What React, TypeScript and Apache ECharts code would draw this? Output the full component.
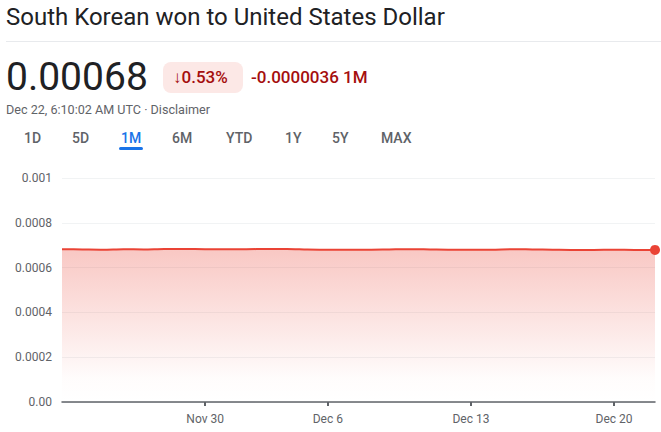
import React, { useEffect, useRef } from "react";
import * as echarts from "echarts";

const dates = [
  "Nov 23", "Nov 24", "Nov 25", "Nov 26", "Nov 27", "Nov 28", "Nov 29", "Nov 30",
  "Dec 1", "Dec 2", "Dec 3", "Dec 4", "Dec 5", "Dec 6", "Dec 7", "Dec 8", "Dec 9",
  "Dec 10", "Dec 11", "Dec 12", "Dec 13", "Dec 14", "Dec 15", "Dec 16", "Dec 17",
  "Dec 18", "Dec 19", "Dec 20", "Dec 21", "Dec 22",
];
const rates = [
  0.000682, 0.000681, 0.00068, 0.000682, 0.000681, 0.000683, 0.000683, 0.000682,
  0.000682, 0.000682, 0.000683, 0.000683, 0.000681, 0.00068, 0.00068, 0.00068,
  0.000681, 0.000682, 0.000681, 0.00068, 0.00068, 0.00068, 0.000682, 0.000681,
  0.00068, 0.000679, 0.000679, 0.00068, 0.000679, 0.000679,
];
const xTickLabels = ["Nov 30", "Dec 6", "Dec 13", "Dec 20"];
const yTickLabels = ["0.00", "0.0002", "0.0004", "0.0006", "0.0008", "0.001"];
const tabs = ["1D", "5D", "1M", "6M", "YTD", "1Y", "5Y", "MAX"];
const tabX = [24, 72, 121, 172, 226, 285, 332, 381];

const FONT = "Roboto, 'Noto Sans', sans-serif";

export default function App() {
  const ref = useRef<HTMLDivElement>(null);
  useEffect(() => {
    if (!ref.current) return;
    const chart = echarts.init(ref.current, undefined, { renderer: "svg" });
    const tickIdx = xTickLabels.map((l) => dates.indexOf(l));
    const lastIdx = dates.length - 1;
    const tabGraphics: any[] = tabs.map((t, i) => ({
      type: "text",
      left: tabX[i],
      top: 131,
      style: {
        text: t,
        fontFamily: FONT,
        fontSize: 14,
        fontWeight: 500,
        fill: t === "1M" ? "#1a73e8" : "#5f6368",
      },
    }));
    chart.setOption({
      animation: false,
      textStyle: { fontFamily: FONT },
      grid: { left: 62, right: 6, top: 178, bottom: 30, containLabel: false },
      xAxis: {
        type: "value",
        min: 0,
        max: lastIdx,
        splitLine: { show: false },
        axisLine: { show: true, lineStyle: { color: "#5f6368", width: 1.5 } },
        axisTick: {
          show: true,
          customValues: tickIdx,
          length: 4,
          lineStyle: { color: "#5f6368", width: 2 },
        },
        axisLabel: {
          customValues: tickIdx,
          formatter: (v: number) => dates[Math.round(v)],
          color: "#5f6368",
          fontSize: 12,
          margin: 11,
        },
      },
      yAxis: {
        type: "value",
        min: 0,
        max: 0.001,
        interval: 0.0002,
        axisLine: { show: false },
        axisTick: { show: false },
        splitLine: { show: true, lineStyle: { color: "#f1f3f4", width: 1 } },
        axisLabel: {
          formatter: (v: number) => yTickLabels[Math.round(v / 0.0002)],
          color: "#5f6368",
          fontSize: 12,
          margin: 10,
        },
      },
      series: [
        {
          type: "line",
          data: rates.map((r, i) => [i, r]),
          smooth: 0.3,
          showSymbol: false,
          symbol: "none",
          lineStyle: { color: "#ea4335", width: 2 },
          areaStyle: {
            color: new echarts.graphic.LinearGradient(0, 0, 0, 1, [
              { offset: 0, color: "rgba(234,67,53,0.42)" },
              { offset: 0.85, color: "rgba(234,67,53,0.02)" },
              { offset: 1, color: "rgba(234,67,53,0)" },
            ]),
            origin: "start",
          },
          markPoint: {
            symbol: "circle",
            symbolSize: 10,
            data: [{ coord: [lastIdx, rates[lastIdx]] }],
            itemStyle: { color: "#ea4335" },
            label: { show: false },
          },
        },
      ],
      graphic: [
        {
          type: "text",
          left: 6,
          top: 5,
          style: {
            text: "South Korean won to United States Dollar",
            fontFamily: FONT,
            fontSize: 24,
            fill: "#202124",
          },
        },
        {
          type: "rect",
          shape: { x: 6, y: 41, width: 655, height: 1 },
          style: { fill: "#e8eaed" },
        },
        {
          type: "text",
          left: 6,
          top: 57,
          style: {
            text: "0.00068",
            fontFamily: FONT,
            fontSize: 39,
            fill: "#202124",
          },
        },
        {
          type: "rect",
          shape: { x: 163, y: 62, width: 80, height: 31, r: 8 },
          style: { fill: "#fce8e6" },
        },
        {
          type: "text",
          left: 173,
          top: 68,
          style: {
            text: "↓0.53%",
            fontFamily: FONT,
            fontSize: 17,
            fontWeight: 500,
            fill: "#a50e0e",
          },
        },
        {
          type: "text",
          left: 251,
          top: 68,
          style: {
            text: "-0.0000036 1M",
            fontFamily: FONT,
            fontSize: 17,
            fontWeight: 500,
            fill: "#a50e0e",
          },
        },
        {
          type: "text",
          left: 6,
          top: 103,
          style: {
            text: "Dec 22, 6:10:02 AM UTC · Disclaimer",
            fontFamily: FONT,
            fontSize: 12.6,
            fill: "#5f6368",
          },
        },
        ...tabGraphics,
        {
          type: "rect",
          shape: { x: 119, y: 147, width: 24, height: 3, r: 1.5 },
          style: { fill: "#1a73e8" },
        },
      ],
    });
    return () => chart.dispose();
  }, []);
  return (
    <div style={{ position: "fixed", left: 0, top: 0, width: 661, height: 432, background: "#fff" }}>
      <div ref={ref} style={{ width: 661, height: 432 }} />
    </div>
  );
}
